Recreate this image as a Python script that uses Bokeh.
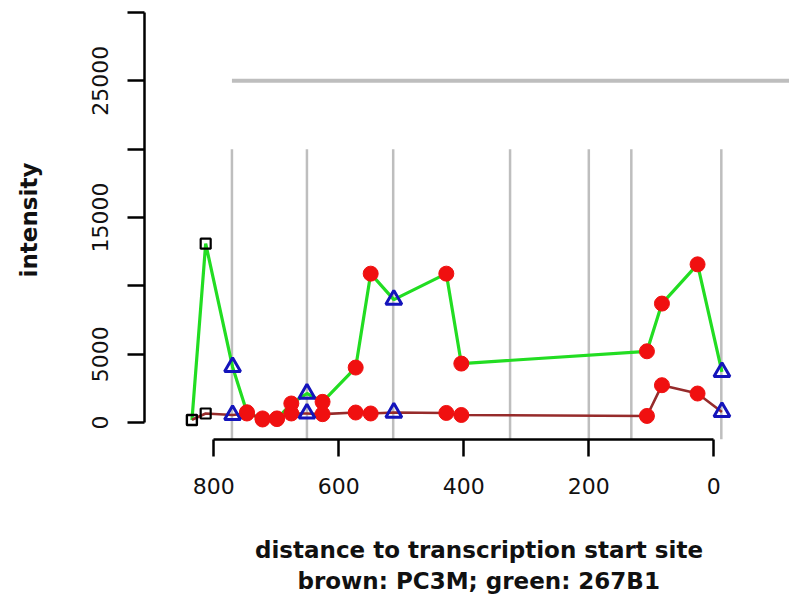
from bokeh.plotting import figure
from bokeh.models import Range1d, FixedTicker, Title
from bokeh.embed import file_html
from bokeh.resources import INLINE

# ---------------- data ----------------
distance = [835, 813, 770, 747, 722, 699, 676, 651, 626, 573, 549, 512, 428, 404, 107, 83, 26, -13]
green_267B1 = [170, 13085, 4065, 750, 220, 250, 1390, 2120, 1510, 4020, 10890, 8990, 10890, 4310, 5210, 8700, 11570, 3700]
brown_PC3M = [200, 660, 550, 660, 300, 300, 660, 660, 610, 730, 660, 730, 700, 550, 480, 2730, 2120, 775]
probe_kind = ["control", "control", "site", "probe", "probe", "probe", "probe", "site", "probe",
              "probe", "probe", "site", "probe", "probe", "probe", "probe", "probe", "site"]
site_lines = [771, 651, 513, 326, 200, 132, -12]
site_line_top = 20000
ref_level = 25000
ref_from = 771
x_ticks = [0, 200, 400, 600, 800]
y_ticks = [0, 5000, 10000, 15000, 20000, 25000, 30000]
y_tick_text = ["0", "5000", "", "15000", "", "25000", ""]
x_title_lines = ["distance to transcription start site", "brown: PC3M; green: 267B1"]

# ---------------- styles ----------------
FONT = "DejaVu Sans"
GREEN = "#22dd22"
BROWN = "#962b2b"
RED = "#f01010"
BLUE = "#1414bb"
GREY = "#bebebe"

x_lo, x_hi = 910.9, -121.1
y_lo, y_hi = -1243, 30873

p = figure(width=789, height=603, output_backend="svg", toolbar_location=None,
           x_range=Range1d(x_lo, x_hi), y_range=Range1d(y_lo, y_hi),
           min_border_left=144, min_border_right=0, min_border_top=0, min_border_bottom=164)
p.outline_line_color = None
p.xgrid.visible = False
p.ygrid.visible = False
p.background_fill_color = "white"
p.border_fill_color = "white"

# grey reference lines
p.segment(x0=site_lines, y0=[site_line_top] * len(site_lines), x1=site_lines,
          y1=[y_lo] * len(site_lines), line_color=GREY, line_width=2.5)
p.segment(x0=[ref_from], y0=[ref_level], x1=[x_hi - 50], y1=[ref_level],
          line_color=GREY, line_width=4)

# series lines
p.line(distance, green_267B1, line_color=GREEN, line_width=3.2)
p.line(distance, brown_PC3M, line_color=BROWN, line_width=2.6)

# markers
for series in (brown_PC3M, green_267B1):
    for kind, marker, kw in (
        ("probe", "circle", dict(size=15, fill_color=RED, line_color=RED, line_width=1)),
        ("site", "triangle", dict(size=16, fill_color=None, line_color=BLUE, line_width=3)),
        ("control", "square", dict(size=10, fill_color=None, line_color="black", line_width=2.2)),
    ):
        xs = [d for d, k in zip(distance, probe_kind) if k == kind]
        ys = [v for v, k in zip(series, probe_kind) if k == kind]
        p.scatter(xs, ys, marker=marker, **kw)

# axes
for ax in (p.xaxis[0], p.yaxis[0]):
    ax.axis_line_width = 2.5
    ax.axis_line_color = "black"
    ax.major_tick_line_width = 2.5
    ax.major_tick_line_color = "black"
    ax.major_tick_out = 17
    ax.major_tick_in = 0
    ax.minor_tick_line_color = None
    ax.major_label_text_font = FONT
    ax.major_label_text_font_size = "22px"
    ax.major_label_text_color = "#111111"
    ax.axis_label_text_font = FONT
    ax.axis_label_text_font_size = "23px"
    ax.axis_label_text_font_style = "bold"
    ax.axis_label_text_color = "#111111"

p.xaxis.ticker = FixedTicker(ticks=x_ticks)
p.xaxis.bounds = (min(x_ticks), max(x_ticks))
p.xaxis.major_label_standoff = 21
# first line of the x title (non-breaking spaces nudge it to the original's centre)
p.xaxis.axis_label = "\u00a0" * 3 + x_title_lines[0]
p.xaxis.axis_label_standoff = 40

p.yaxis.ticker = FixedTicker(ticks=y_ticks)
p.yaxis.bounds = (min(y_ticks), max(y_ticks))
p.yaxis.major_label_overrides = {t: s for t, s in zip(y_ticks, y_tick_text)}
p.yaxis.major_label_orientation = "vertical"
p.yaxis.major_label_standoff = 19
p.yaxis.axis_label = "intensity"
p.yaxis.axis_label_standoff = 48

p.add_layout(Title(text=x_title_lines[1], align="left", offset=153, text_font=FONT,
                   text_font_size="23px", text_font_style="bold", text_color="#111111",
                   standoff=0), "below")

open("out.html", "w").write(file_html(p, INLINE))
